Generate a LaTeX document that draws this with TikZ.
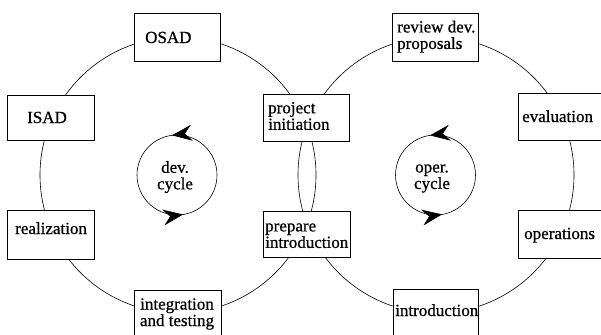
\documentclass[tikz,border=0pt]{standalone}
\usepackage{fontspec}
\setmainfont{Liberation Serif}
\newfontfamily\inkfont[FakeBold=0.7]{Liberation Serif}
\usetikzlibrary{arrows.meta,calc}
\begin{document}
\begin{tikzpicture}[x=1pt,y=-1pt,
  ring/.style={line width=0.6pt},
  box/.style={draw, fill=white, line width=0.9pt, inner sep=0pt},
  lbl/.style={font=\inkfont\fontsize{17}{16.5}\selectfont, inner sep=0pt, align=left},
  cyc/.style={font=\inkfont\fontsize{17}{16.5}\selectfont, inner sep=0pt, align=center},
  tip/.style={line width=0.6pt, -{Stealth[length=20pt,width=16pt,inset=7pt]}}]
\useasboundingbox (0,0) rectangle (601,334);
\clip (0,0) rectangle (601,334);
\fill[white] (0,0) rectangle (601,334);

% centres of the two large cycles and the two small cycle marks
\coordinate (devc) at (178,175);
\coordinate (opc) at (436,175);
\coordinate (devs) at (177,175);
\coordinate (ops) at (435.5,175);

% large cycles running through the activity boxes
\draw[ring] (devc) circle[radius=138pt];
\draw[ring] (opc) circle[radius=138pt];

% development cycle boxes
\node[box, minimum width=86pt, minimum height=48pt] (osad) at (177,37) {};
\node[box, minimum width=87pt, minimum height=45pt] (isad) at (50.5,117.5) {};
\node[box, minimum width=87pt, minimum height=49pt] (real) at (50.5,234.5) {};
\node[box, minimum width=87pt, minimum height=55pt] (integ) at (177.5,317.5) {};
\node[box, minimum width=86pt, minimum height=47pt] (proj) at (306,117.5) {};
\node[box, minimum width=87pt, minimum height=46pt] (prep) at (306.5,234) {};

% operation cycle boxes
\node[box, minimum width=86pt, minimum height=48pt] (review) at (435,37) {};
\node[box, minimum width=92pt, minimum height=47pt] (eval) at (564,116.5) {};
\node[box, minimum width=92pt, minimum height=48pt] (oper) at (564,234) {};
\node[box, minimum width=85pt, minimum height=56pt] (intro) at (435.5,317) {};

% box texts
\node[lbl, anchor=base west] (osadt) at (145,43) {OSAD};
\node[lbl, anchor=base west] (isadt) at (27,123) {ISAD};
\node[lbl, anchor=base west] (realt) at (15,234) {realization};
\node[cyc] (integt) at (177,314) {integration\\and testing};
\node[lbl, anchor=west] (projt) at (268,116) {project\\initiation};
\node[lbl, anchor=west] (prept) at (265,235.7) {prepare\\introduction};
\node[lbl, anchor=west] (reviewt) at (397,36.6) {review dev.\\proposals};
\node[lbl, anchor=base west] (evalt) at (522,122) {evaluation};
\node[lbl, anchor=base west] (opert) at (524,239) {operations};
\node[lbl, anchor=base west] (introt) at (395,316) {introduction};

% small cycle marks
\draw[ring] (devs) circle[radius=40pt];
\draw[ring] (ops) circle[radius=40pt];
\node[cyc] (devt) at (175,177) {dev.\\cycle};
\node[cyc] (opt) at (432,178.5) {oper.\\cycle};
\draw[tip] ($(devs)+(6.9,-41.2)$) -- ($(devs)+(-5,-39.7)$);
\draw[tip] ($(devs)+(-5.9,41.3)$) -- ($(devs)+(6,39.5)$);
\draw[tip] ($(ops)+(6.4,-41.2)$) -- ($(ops)+(-5.5,-39.6)$);
\draw[tip] ($(ops)+(-5.4,41.3)$) -- ($(ops)+(6.5,39.4)$);
\end{tikzpicture}
\end{document}
